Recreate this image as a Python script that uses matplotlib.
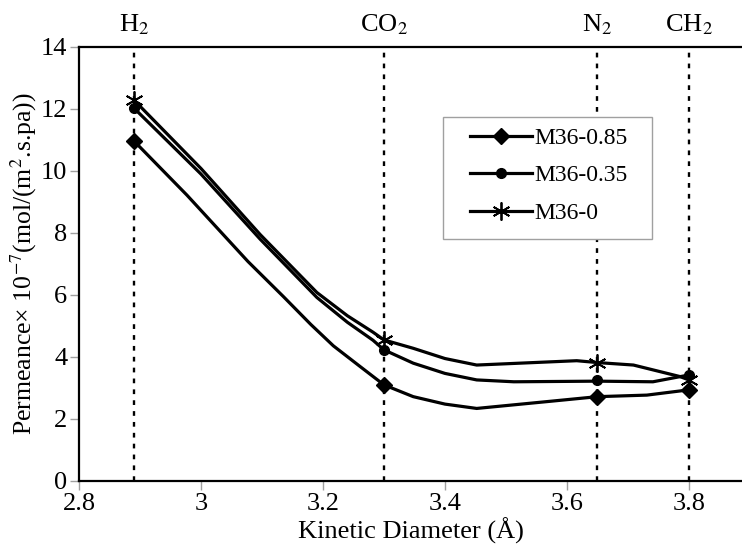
import matplotlib
matplotlib.use("Agg")
import matplotlib.pyplot as plt
import matplotlib.transforms as mtransforms
from matplotlib.patches import Rectangle

plt.rcParams["font.family"] = ["Liberation Serif", "DejaVu Serif"]
plt.rcParams["mathtext.fontset"] = "stix"

# gas kinetic diameters (marked points)
gases = ["H$_2$", "CO$_2$", "N$_2$", "CH$_2$"]
gas_x = [2.89, 3.30, 3.65, 3.80]

m085_pts = [10.97, 3.10, 2.72, 2.94]
m035_pts = [12.03, 4.23, 3.25, 3.42]
m0_pts = [12.29, 4.55, 3.82, 3.26]

# traced smoothed curves
m085_cx = [2.89, 2.977, 3.077, 3.135, 3.18, 3.217, 3.261, 3.30, 3.348, 3.40, 3.452, 3.567, 3.65, 3.731, 3.80]
m085_cy = [10.97, 9.22, 7.08, 5.95, 5.05, 4.36, 3.69, 3.10, 2.72, 2.48, 2.34, 2.56, 2.72, 2.77, 2.94]

m035_cx = [2.89, 3.0, 3.097, 3.19, 3.24, 3.282, 3.30, 3.348, 3.40, 3.452, 3.513, 3.65, 3.741, 3.80]
m035_cy = [12.03, 9.9, 7.8, 5.92, 5.12, 4.54, 4.23, 3.80, 3.47, 3.26, 3.20, 3.22, 3.20, 3.42]

m0_cx = [2.89, 3.0, 3.097, 3.19, 3.24, 3.282, 3.30, 3.348, 3.40, 3.452, 3.616, 3.65, 3.709, 3.785, 3.80]
m0_cy = [12.29, 10.08, 7.95, 6.08, 5.33, 4.80, 4.55, 4.28, 3.95, 3.74, 3.88, 3.82, 3.74, 3.37, 3.26]

fig = plt.figure(figsize=(7.42, 5.49), dpi=100)
ax = fig.add_axes([0.1065, 0.1239, 0.8935, 0.7905])

for gx in gas_x:
    ax.axvline(gx, color="black", lw=1.7, linestyle=(0, (2, 2.6)), zorder=1)

lw = 2.3
ax.plot(m085_cx, m085_cy, color="black", lw=lw, zorder=2)
ax.plot(m035_cx, m035_cy, color="black", lw=lw, zorder=2)
ax.plot(m0_cx, m0_cy, color="black", lw=lw, zorder=2)

ax.plot(gas_x, m085_pts, linestyle="none", marker="D", ms=8.5, color="black", zorder=3)
ax.plot(gas_x, m035_pts, linestyle="none", marker="o", ms=7, color="black", zorder=3)
ax.plot(gas_x, m0_pts, linestyle="none", marker=(6, 2, 0), ms=13, mew=1.3,
        color="black", zorder=3)

# legend box drawn separately so the padding matches
ax.add_patch(Rectangle((0.549, 0.558), 0.315, 0.281, transform=ax.transAxes,
                       facecolor="white", edgecolor="#a0a0a0", lw=1.0, zorder=4))
h1, = ax.plot([], [], color="black", lw=lw, marker="D", ms=8.5, label="M36-0.85")
h2, = ax.plot([], [], color="black", lw=lw, marker="o", ms=7, label="M36-0.35")
h3, = ax.plot([], [], color="black", lw=lw, marker=(6, 2, 0), ms=13, mew=1.3, label="M36-0")
leg = ax.legend(handles=[h1, h2, h3], loc="upper left", bbox_to_anchor=(0.59, 0.815),
                fontsize=17, frameon=False, handlelength=2.6, handletextpad=0.1,
                labelspacing=0.68, borderpad=0, borderaxespad=0)
leg.set_zorder(5)

ax.set_xlim(2.8, 3.887)
ax.set_ylim(0, 14)
ax.set_xticks([2.8, 3.0, 3.2, 3.4, 3.6, 3.8])
ax.set_xticklabels(["2.8", "3", "3.2", "3.4", "3.6", "3.8"])
ax.set_yticks([0, 2, 4, 6, 8, 10, 12, 14])
ax.tick_params(axis="both", direction="out", length=6.5, width=1, color="#a0a0a0",
               labelsize=19, pad=2)

ax.spines["right"].set_visible(False)
for s in ["left", "bottom", "top"]:
    ax.spines[s].set_linewidth(1.6)
    ax.spines[s].set_color("black")

trans = mtransforms.blended_transform_factory(ax.transData, ax.transAxes)
for name, gx in zip(gases, gas_x):
    ax.text(gx, 1.035, name, transform=trans, ha="center", va="baseline", fontsize=19)

ax.set_xlabel("Kinetic Diameter (Å)", fontsize=19, labelpad=2)
ax.set_ylabel("Permeance× 10$^{-7}$(mol/(m$^2$.s.pa))", fontsize=18.5, labelpad=1)

fig.savefig("out.png", dpi=100)
